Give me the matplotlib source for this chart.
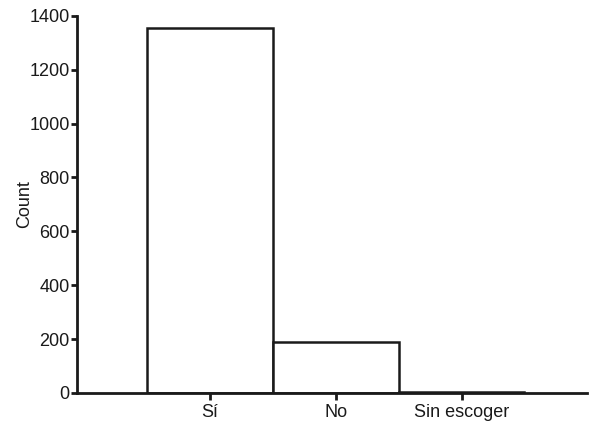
import matplotlib.pyplot as plt

# Data
categories = ['Sí', 'No', 'Sin escoger']
counts = [1355, 190, 4]
y_ticks = [0, 200, 400, 600, 800, 1000, 1200, 1400]

plt.rcParams['font.family'] = ['Liberation Sans', 'DejaVu Sans']

fig = plt.figure(figsize=(5.95, 4.29), dpi=100)
ax = fig.add_axes([0.129, 0.084, 0.858, 0.879])

ax.bar(range(len(categories)), counts, width=1.0, color='white',
       edgecolor='#1a1a1a', linewidth=1.8)

ax.set_xlim(-1.06, 3.0)
ax.set_ylim(0, 1400)
ax.set_yticks(y_ticks)
ax.set_xticks(range(len(categories)))
ax.set_xticklabels(categories)
ax.set_ylabel('Count', fontsize=13, color='#1a1a1a')
ax.yaxis.set_label_coords(-0.085, 0.5)

for side in ['top', 'right']:
    ax.spines[side].set_visible(False)
for side in ['left', 'bottom']:
    ax.spines[side].set_linewidth(2)
    ax.spines[side].set_color('#1a1a1a')

ax.tick_params(axis='both', labelsize=13, width=2, length=4, color='#1a1a1a',
               labelcolor='#1a1a1a', pad=1)
ax.tick_params(axis='x', length=5, pad=3)

fig.savefig('out.png', dpi=100)
